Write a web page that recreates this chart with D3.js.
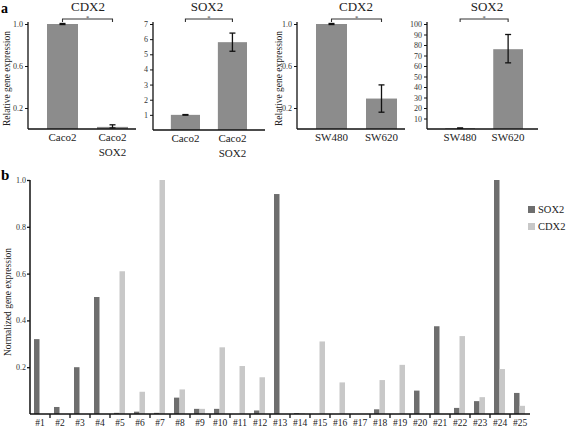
<!DOCTYPE html>
<html><head><meta charset="utf-8">
<script src="https://cdn.jsdelivr.net/npm/d3@7"></script>
<style>
body{margin:0;background:#fff}
svg, svg text{font-family:"Times New Roman","Liberation Serif","DejaVu Serif",serif}
</style></head>
<body><svg id="c" width="566" height="428"></svg>
<script>
// ---- Panel a data ----
const aTitles = ["CDX2", "SOX2", "CDX2", "SOX2"];
const aCats = [["Caco2", "Caco2\nSOX2"], ["Caco2", "Caco2\nSOX2"], ["SW480", "SW620"], ["SW480", "SW620"]];
const aValues = [[1.0, 0.02], [1.0, 5.8], [1.0, 0.29], [0.8, 76]];
const aErrLow = [[0.995, 0.01], [0.98, 5.2], [0.995, 0.16], [0.6, 63]];
const aErrHigh = [[1.005, 0.04], [1.02, 6.4], [1.005, 0.42], [1.0, 90]];
const aMax = [1.0, 7, 1.0, 100];
const aTicks = [[0.2, 0.6, 1.0], [1, 2, 3, 4, 5, 6, 7], [0.2, 0.6, 1.0], [10, 20, 30, 40, 50, 60, 70, 80, 90, 100]];
// ---- Panel b data ----
const bCats = ["#1","#2","#3","#4","#5","#6","#7","#8","#9","#10","#11","#12","#13","#14","#15","#16","#17","#18","#19","#20","#21","#22","#23","#24","#25"];
const sox2 = [0.32,0.03,0.20,0.50,0.005,0.01,0.005,0.07,0.022,0.022,0,0.015,0.94,0.004,0,0,0,0.02,0,0.10,0.375,0.026,0.055,1.0,0.09];
const cdx2 = [0,0,0,0,0.61,0.095,1.0,0.105,0.022,0.285,0.205,0.157,0,0.003,0.31,0.135,0,0.145,0.21,0,0,0.333,0.072,0.192,0.035];
const bTicks = [0.2, 0.4, 0.6, 0.8, 1.0];
const seriesNames = ["SOX2", "CDX2"];

const FONT = '"Times New Roman","Liberation Serif","DejaVu Serif",serif';
const svg = d3.select("#c").attr("font-family", FONT);
const ink = "#111";

const aLayout = [
  {x0: 28, x1: 136, top: 24, base: 129, step: 50, titleX: 88, ylab: 8},
  {x0: 153, x1: 265, top: 24, base: 130, step: 47, titleX: 207, ylab: null},
  {x0: 297, x1: 405, top: 24, base: 129, step: 50, titleX: 356, ylab: 280},
  {x0: 427, x1: 538, top: 24, base: 129, step: 48, titleX: 487, ylab: null}
];

svg.append("text").attr("x", 1).attr("y", 13).attr("font-size", 14).attr("font-weight", "bold").text("a");
svg.append("text").attr("x", 1).attr("y", 180).attr("font-size", 15).attr("font-weight", "bold").text("b");

aLayout.forEach((L, i) => {
  const g = svg.append("g");
  const y = d3.scaleLinear().domain([0, aMax[i]]).range([L.base, L.top]);
  const W = L.step * 2.38;
  const x = d3.scaleBand().domain(aCats[i]).range([L.x0, L.x0 + W]).paddingInner(0.38).paddingOuter(0.38);
  g.selectAll("rect.bar").data(aValues[i]).join("rect")
    .attr("x", (d, j) => x(aCats[i][j])).attr("width", x.bandwidth())
    .attr("y", d => y(d)).attr("height", d => L.base - y(d))
    .attr("fill", "#8c8c8c");
  aValues[i].forEach((v, j) => {
    const cx = x(aCats[i][j]) + x.bandwidth() / 2;
    const lo = y(aErrLow[i][j]), hi = y(aErrHigh[i][j]);
    g.append("line").attr("x1", cx).attr("x2", cx).attr("y1", lo).attr("y2", hi).attr("stroke", ink).attr("stroke-width", 1.3);
    g.append("line").attr("x1", cx - 3).attr("x2", cx + 3).attr("y1", lo).attr("y2", lo).attr("stroke", ink).attr("stroke-width", 1.3);
    g.append("line").attr("x1", cx - 3).attr("x2", cx + 3).attr("y1", hi).attr("y2", hi).attr("stroke", ink).attr("stroke-width", 1.3);
  });
  const ya = d3.axisLeft(y).tickValues(aTicks[i]).tickSize(3).tickPadding(2)
    .tickFormat(aMax[i] === 1 ? d3.format(".1f") : d3.format("d"));
  const yg = g.append("g").attr("transform", `translate(${L.x0},0)`).call(ya).attr("font-family", FONT);
  yg.select(".domain").attr("d", `M0,${L.top - 2}V${L.base}`).attr("stroke", ink).attr("stroke-width", 1.3);
  yg.selectAll(".tick line").attr("stroke", ink);
  yg.selectAll(".tick text").attr("font-size", 8).attr("fill", "#333");
  g.append("line").attr("x1", L.x0).attr("x2", L.x1).attr("y1", L.base).attr("y2", L.base).attr("stroke", ink).attr("stroke-width", 1.5);
  aCats[i].forEach(c => {
    const cx = x(c) + x.bandwidth() / 2;
    c.split("\n").forEach((ln, k) => {
      g.append("text").attr("x", cx).attr("y", L.base + 12 + k * 15).attr("text-anchor", "middle")
        .attr("font-size", 11).attr("fill", "#222").text(ln);
    });
  });
  g.append("text").attr("x", L.titleX).attr("y", 11).attr("text-anchor", "middle").attr("font-size", 13).attr("fill", "#222").text(aTitles[i]);
  const c1 = x(aCats[i][0]) + x.bandwidth() / 2, c2 = x(aCats[i][1]) + x.bandwidth() / 2;
  const by = 19;
  g.append("path").attr("d", `M${c1},${by + 3}V${by}H${c2}V${by + 3}`).attr("fill", "none").attr("stroke", "#333").attr("stroke-width", 1.1);
  g.append("text").attr("x", (c1 + c2) / 2).attr("y", by + 0.5).attr("text-anchor", "middle").attr("font-size", 6.5).attr("fill", "#333").text("*");
  if (L.ylab !== null) {
    g.append("text").attr("transform", `translate(${L.ylab},${(L.top + L.base) / 2 + 2}) rotate(-90)`)
      .attr("text-anchor", "middle").attr("dominant-baseline", "middle").attr("font-size", 9.5).attr("fill", "#222").text("Relative gene expression");
  }
});

// ---- Panel b ----
const B = {x0: 30, x1: 530, top: 180, base: 414};
const xb = d3.scaleBand().domain(bCats).range([B.x0, B.x1]);
const yb = d3.scaleLinear().domain([0, 1]).range([B.base, B.top]);
const gb = svg.append("g");
const colors = ["#6e6e6e", "#c8c8c8"];
const series = [sox2, cdx2];
series.forEach((vals, s) => {
  gb.selectAll("rect.s" + s).data(vals).join("rect")
    .attr("x", (d, j) => xb(bCats[j]) + 4 + s * 5.5)
    .attr("width", 5.5)
    .attr("y", d => yb(d)).attr("height", d => B.base - yb(d))
    .attr("fill", colors[s]);
});
const yba = d3.axisLeft(yb).tickValues(bTicks).tickSize(3).tickPadding(1).tickFormat(d3.format(".1f"));
const ybg = gb.append("g").attr("transform", `translate(${B.x0},0)`).call(yba).attr("font-family", FONT);
ybg.select(".domain").attr("d", `M0,${B.top}V${B.base}`).attr("stroke", ink).attr("stroke-width", 1.5);
ybg.selectAll(".tick line").attr("stroke", ink).attr("stroke-width", 1.3);
ybg.selectAll(".tick text").attr("font-size", 8).attr("fill", "#333");
gb.append("line").attr("x1", B.x0).attr("x2", B.x1).attr("y1", B.base).attr("y2", B.base).attr("stroke", ink).attr("stroke-width", 1.5);
bCats.slice(1).forEach(c => {
  const tx = xb(c);
  gb.append("line").attr("x1", tx).attr("x2", tx).attr("y1", B.base).attr("y2", B.base + 4).attr("stroke", ink).attr("stroke-width", 1.3);
});
bCats.forEach(c => {
  gb.append("text").attr("x", xb(c) + xb.bandwidth() / 2).attr("y", B.base + 12).attr("text-anchor", "middle")
    .attr("font-size", 9.5).attr("fill", "#222").text(c);
});
gb.append("text").attr("transform", `translate(9,${(B.top + B.base) / 2 + 5}) rotate(-90)`)
  .attr("text-anchor", "middle").attr("dominant-baseline", "middle").attr("font-size", 9.5).attr("fill", "#222").text("Normalized gene expression");
seriesNames.forEach((n, s) => {
  gb.append("rect").attr("x", 528).attr("y", 206 + s * 17).attr("width", 7).attr("height", 7).attr("fill", colors[s]);
  gb.append("text").attr("x", 538).attr("y", 213 + s * 17).attr("font-size", 10.5).attr("fill", "#222").text(n);
});
</script></body></html>
